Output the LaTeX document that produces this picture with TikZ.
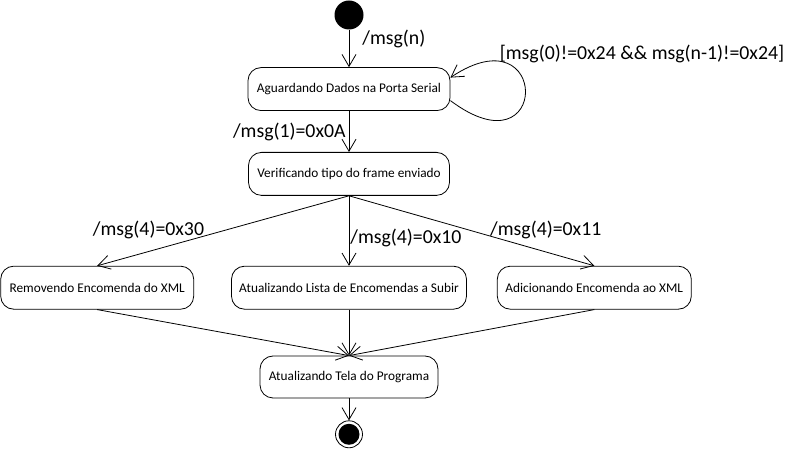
\documentclass[tikz,border=0pt]{standalone}
\usepackage{fontspec}
\setmainfont{Carlito}
\usetikzlibrary{arrows.meta, positioning}
\tikzset{
  stt/.style = {rectangle, rounded corners=13pt, draw, line width=0.8pt,
                minimum height=43pt, inner sep=2pt,
                font=\fontsize{13.3}{16}\selectfont},
  ini/.style = {circle, fill=black, minimum size=29pt, inner sep=0pt},
  fin/.style = {circle, draw, line width=0.8pt, minimum size=27pt, inner sep=0pt,
                path picture={\fill[black] (path picture bounding box.center) circle (10.5pt);}},
  arr/.style = {-{Straight Barb[length=12pt,width=14pt]}, line width=0.8pt},
  lbl/.style = {font=\fontsize{19.8}{24}\selectfont, inner sep=1pt},
}
\begin{document}
\begin{tikzpicture}[x=1pt, y=1pt, node distance=40pt]
  \useasboundingbox (0,0) rectangle (788,449);

  \node[ini] (start) at (349,434) {};
  \node[stt, minimum width=202pt, below=37.5pt of start] (wait)   {Aguardando Dados na Porta Serial};
  \node[stt, minimum width=201pt, below=41pt of wait]    (check)  {Verificando tipo do frame enviado};
  \node[stt, minimum width=235pt, below=70pt of check]   (list)   {Atualizando Lista de Encomendas a Subir};
  \node[stt, minimum width=193pt, left=37pt of list]     (remove) {Removendo Encomenda do XML};
  \node[stt, minimum width=194pt, right=30pt of list]    (add)    {Adicionando Encomenda ao XML};
  \node[stt, minimum width=178pt, minimum height=42pt, below=46pt of list] (screen) {Atualizando Tela do Programa};
  \node[fin, below=22pt of screen]                       (stop)   {};

  \draw[arr] (start) -- node[lbl, pos=0.25, right=12pt] {/msg(n)} (wait);
  \draw[arr] (wait) -- node[lbl, left=2pt] {/msg(1)=0x0A} (check);

  % loop while the frame is not complete
  \draw[arr] ([yshift=-11.5pt]wait.east) .. controls +(100,-75) and +(100,67) ..
    ([yshift=11.5pt]wait.east)
    node[lbl, pos=0.8, anchor=west, yshift=7pt] {[msg(0)!=0x24 \&\& msg(n-1)!=0x24]};

  \draw[arr] (check.south) -- node[lbl, pos=0.57, anchor=east, yshift=6pt] {/msg(4)=0x30} (remove.north);
  \draw[arr] (check) -- node[lbl, pos=0.6, right] {/msg(4)=0x10} (list);
  \draw[arr] (check.south) -- node[lbl, pos=0.57, anchor=west, yshift=6pt] {/msg(4)=0x11} (add.north);

  \draw[arr] (remove.south) -- (screen.north);
  \draw[arr] (list) -- (screen);
  \draw[arr] (add.south) -- (screen.north);
  \draw[arr] (screen) -- (stop);

\end{tikzpicture}
\end{document}
